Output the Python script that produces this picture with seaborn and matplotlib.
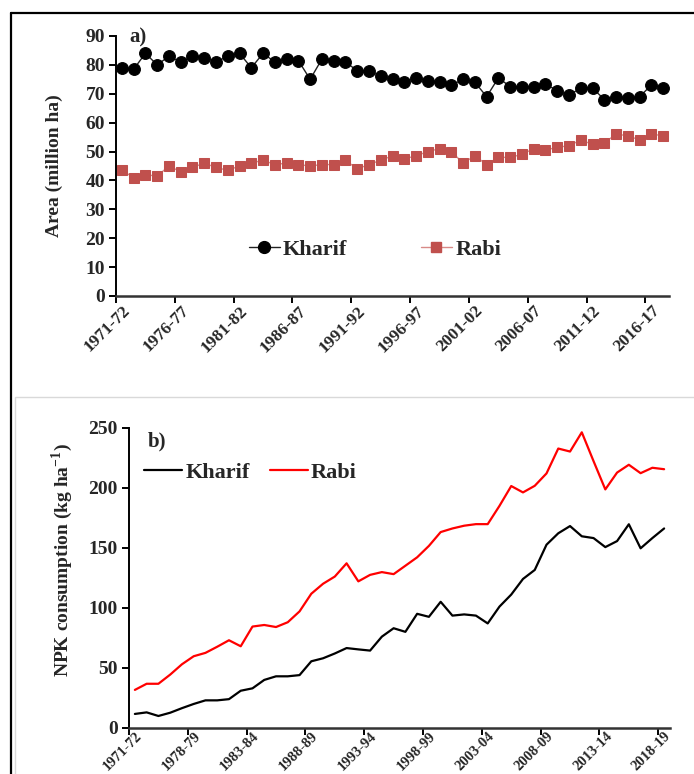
import numpy as np
import pandas as pd
import matplotlib
matplotlib.use('Agg')
import matplotlib.pyplot as plt
from matplotlib.patches import Rectangle
from matplotlib.lines import Line2D
import seaborn as sns

# panel a) area under kharif / rabi (million ha), 1971-72 .. 2017-18
area_kharif = [79, 78.5, 84, 80, 83, 81, 83, 82.5, 81, 83, 84, 79, 84, 81, 82, 81.5,
               75, 82, 81.5, 81, 78, 78, 76, 75, 74, 75.5, 74.5, 74, 73, 75, 74, 69,
               75.5, 72.5, 72.5, 72.5, 73.5, 71, 69.5, 72, 72, 68, 69, 68.5, 69, 73, 72]
area_rabi = [43.5, 41, 42, 41.5, 45, 43, 44.5, 46, 44.5, 43.5, 45, 46, 47, 45.5, 46, 45.5,
             45, 45.5, 45.5, 47, 44, 45.5, 47, 48.5, 47.5, 48.5, 50, 51, 50, 46, 48.5, 45.5,
             48, 48, 49, 51, 50.5, 51.5, 52, 54, 52.5, 53, 56, 55.5, 54, 56, 55.5]
area_ticklabels = ['1971-72', '1976-77', '1981-82', '1986-87', '1991-92',
                   '1996-97', '2001-02', '2006-07', '2011-12', '2016-17']

# panel b) NPK consumption (kg/ha)
npk_kharif = [11.7, 13, 10, 12.7, 16.5, 20, 23, 23, 24, 31, 33, 40, 43, 43, 44, 55.5,
              58, 62, 66.5, 65.4, 64.4, 76, 83, 80, 95, 92.5, 105, 93.5, 94.5, 93.5, 87,
              101, 111, 124, 131.5, 152.5, 162, 168, 159.5, 158, 150.5, 155.5, 169.5, 149.5,
              158, 166]
npk_rabi = [31.7, 36.8, 36.8, 44.4, 53, 59.7, 62.5, 67.6, 73, 68, 84.4, 85.7, 84, 88, 97,
            111.7, 120, 126, 137, 122, 127.4, 129.7, 128, 135, 142, 151.5, 163, 166, 168.3,
            169.6, 169.6, 184.8, 201.3, 196, 201.5, 211.8, 232.5, 230, 246, 222, 198.5, 212.5,
            219, 212, 216.5, 215.3]
npk_ticklabels = ['1971-72', '1978-79', '1983-84', '1988-89', '1993-94',
                  '1998-99', '2003-04', '2008-09', '2013-14', '2018-19']

seasons = ['Kharif', 'Rabi']

sns.set_theme(style='white')
plt.rcParams['font.family'] = ['Liberation Serif', 'DejaVu Serif']
plt.rcParams['font.weight'] = 'bold'
plt.rcParams['axes.labelweight'] = 'bold'
plt.rcParams['mathtext.fontset'] = 'custom'
plt.rcParams['mathtext.bf'] = 'Liberation Serif:bold'
plt.rcParams['mathtext.rm'] = 'Liberation Serif:bold'

fig = plt.figure(figsize=(6.94, 7.74), dpi=100)

# outer frames
fig.add_artist(Line2D([11 / 694, 11 / 694], [0, 1 - 13 / 774], color='black', lw=1.6,
                      transform=fig.transFigure))
fig.add_artist(Line2D([11 / 694, 1], [1 - 13 / 774, 1 - 13 / 774], color='black', lw=1.6,
                      transform=fig.transFigure))
fig.add_artist(Rectangle((15 / 694, -0.01), 1, 1 - 397 / 774 + 0.01, fill=False,
                         edgecolor='#d9d9d9', lw=1.0, transform=fig.transFigure))

def style_axis(ax, n, labels, xsize, xpad):
    ax.set_xlim(-0.5, n - 0.5)
    for s in ['top', 'right']:
        ax.spines[s].set_visible(False)
    ax.spines['left'].set_color('black')
    ax.spines['left'].set_linewidth(1.4)
    ax.spines['bottom'].set_color('#333333')
    ax.spines['bottom'].set_linewidth(1.8)
    # tick marks between categories, labels on category
    ax.set_xticks(np.arange(0, n, 5))
    ax.set_xticklabels(labels, rotation=45, ha='right', rotation_mode='anchor',
                       fontsize=xsize, fontweight='bold')
    ax.set_xticks(np.arange(-0.5, n - 1, 5), minor=True)
    ax.tick_params(axis='x', which='major', length=0, pad=xpad)
    ax.tick_params(axis='x', which='minor', length=5, width=1.4, color='black',
                   direction='out', bottom=True)
    ax.tick_params(axis='y', length=5, width=1.4, color='black', direction='out',
                   left=True, labelsize=14, pad=3)
    for t in ax.get_yticklabels():
        t.set_fontweight('bold')
    ax.set_xlabel('')

# ---------- panel a ----------
ax1 = fig.add_axes([116 / 694, 1 - 296 / 774, (669 - 116) / 694, 260 / 774])
n1 = len(area_kharif)
df1 = pd.DataFrame({'idx': list(range(n1)) * 2,
                    'season': ['Kharif'] * n1 + ['Rabi'] * n1,
                    'value': area_kharif + area_rabi})
sns.lineplot(data=df1[df1.season == 'Kharif'], x='idx', y='value', ax=ax1,
             color='#222222', lw=1.0, marker='o', markersize=8.5,
             markerfacecolor='black', markeredgecolor='black', legend=False)
sns.lineplot(data=df1[df1.season == 'Rabi'], x='idx', y='value', ax=ax1,
             color='#d88a88', lw=1.0, marker='s', markersize=7.5,
             markerfacecolor='#c0504d', markeredgecolor='#c0504d', legend=False)
ax1.set_ylim(0, 90)
ax1.set_yticks(range(0, 91, 10))
style_axis(ax1, n1, area_ticklabels, 12.5, 5)
ax1.set_ylabel('Area (million ha)', fontsize=14, fontweight='bold')
ax1.yaxis.set_label_coords(-0.095, 0.5)
ax1.text(0.025, 0.995, 'a)', transform=ax1.transAxes, fontsize=15,
         fontweight='bold', ha='left', va='center')
h1 = [Line2D([], [], color='#222222', lw=1.0, marker='o', markersize=8.5,
             markerfacecolor='black', markeredgecolor='black'),
      Line2D([], [], color='#d88a88', lw=1.0, marker='s', markersize=7.5,
             markerfacecolor='#c0504d', markeredgecolor='#c0504d')]
ax1.legend(h1, seasons, loc='center', bbox_to_anchor=(0.468, 0.177), ncol=2,
           frameon=False, handlelength=1.4, handletextpad=0.15, columnspacing=3.3,
           prop={'size': 16, 'weight': 'bold'})

# ---------- panel b ----------
ax2 = fig.add_axes([129 / 694, 1 - 728 / 774, (670 - 129) / 694, 300.5 / 774])
n2 = len(npk_kharif)
df2 = pd.DataFrame({'idx': list(range(n2)) * 2,
                    'season': ['Kharif'] * n2 + ['Rabi'] * n2,
                    'value': npk_kharif + npk_rabi})
sns.lineplot(data=df2, x='idx', y='value', hue='season', ax=ax2,
             palette={'Kharif': 'black', 'Rabi': '#ff0000'}, lw=1.6, legend=False)
ax2.set_ylim(0, 250)
ax2.set_yticks(range(0, 251, 50))
style_axis(ax2, n2, npk_ticklabels, 10.5, 1)
ax2.set_ylabel('NPK consumption (kg ha$^{-1}$)', fontsize=14, fontweight='bold')
ax2.yaxis.set_label_coords(-0.1, 0.56)
ax2.text(0.035, 0.955, 'b)', transform=ax2.transAxes, fontsize=15,
         fontweight='bold', ha='left', va='center')
h2 = [Line2D([], [], color='black', lw=1.6), Line2D([], [], color='#ff0000', lw=1.6)]
ax2.legend(h2, seasons, loc='center', bbox_to_anchor=(0.225, 0.849), ncol=2,
           frameon=False, handlelength=1.7, handletextpad=0.15, columnspacing=0.9,
           prop={'size': 16, 'weight': 'bold'})

fig.savefig('out.png', dpi=100)
